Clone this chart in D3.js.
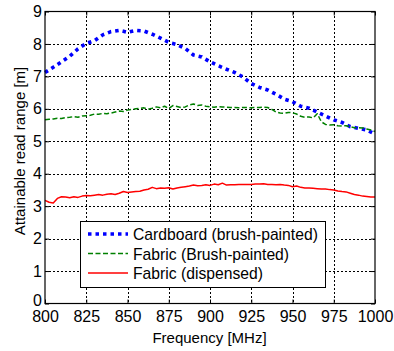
<!DOCTYPE html>
<html>
<head>
<meta charset="utf-8">
<script src="https://cdn.jsdelivr.net/npm/d3@7"></script>
<style>
  html, body { margin: 0; padding: 0; background: #fff; }
  svg { display: block; font-family: "Liberation Sans", Arial, sans-serif; }
</style>
</head>
<body>
<svg id="chart" width="394" height="351"></svg>
<script>
// Read range measurements of printed tags over the UHF band
const freqCoarse = [800, 805, 810, 815, 820, 825, 830, 835, 840, 845, 850, 855, 860, 865, 870, 875, 880, 885, 890, 895,
  900, 905, 910, 915, 920, 925, 930, 935, 940, 945, 950, 955, 960, 965, 970, 975, 980, 985, 990, 995, 1000];

const cardboardBrush = [7.12, 7.28, 7.45, 7.62, 7.85, 8.02, 8.10, 8.28, 8.38, 8.42, 8.36, 8.42, 8.40, 8.30, 8.18, 8.05, 7.98, 7.86, 7.66, 7.60,
  7.45, 7.33, 7.22, 7.12, 6.98, 6.78, 6.66, 6.58, 6.45, 6.30, 6.22, 6.08, 6.02, 5.90, 5.78, 5.66, 5.58, 5.45, 5.40, 5.35, 5.22];

const freqFine = [800, 802.5, 805, 807.5, 810, 812.5, 815, 817.5, 820, 822.5, 825, 827.5, 830, 832.5, 835, 837.5, 840, 842.5, 845, 847.5,
  850, 852.5, 855, 857.5, 860, 862.5, 865, 867.5, 870, 872.5, 875, 877.5, 880, 882.5, 885, 887.5, 890, 892.5, 895, 897.5,
  900, 902.5, 905, 907.5, 910, 912.5, 915, 917.5, 920, 922.5, 925, 927.5, 930, 932.5, 935, 937.5, 940, 942.5, 945, 947.5,
  950, 952.5, 955, 957.5, 960, 962.5, 965, 967.5, 970, 972.5, 975, 977.5, 980, 982.5, 985, 987.5, 990, 992.5, 995, 997.5, 1000];

const fabricBrush = [5.66, 5.68, 5.69, 5.71, 5.70, 5.73, 5.74, 5.76, 5.74, 5.78, 5.79, 5.80, 5.84, 5.83, 5.86, 5.85, 5.87, 5.90, 5.93, 5.92,
  5.96, 5.98, 6.00, 6.01, 6.03, 5.99, 6.02, 6.06, 6.03, 6.08, 6.01, 6.10, 6.07, 6.04, 6.06, 6.12, 6.15, 6.10, 6.12, 6.08,
  6.06, 6.05, 6.07, 6.06, 6.05, 6.04, 6.04, 6.03, 6.04, 6.04, 6.03, 6.04, 6.04, 6.05, 6.04, 5.98, 5.90, 5.87, 5.86, 5.89,
  5.88, 5.84, 5.77, 5.74, 5.75, 5.72, 5.85, 5.60, 5.52, 5.50, 5.51, 5.48, 5.47, 5.48, 5.45, 5.42, 5.42, 5.41, 5.38, 5.35, 5.30];

const fabricDispensed = [3.18, 3.12, 3.10, 3.24, 3.29, 3.28, 3.26, 3.29, 3.27, 3.31, 3.33, 3.32, 3.34, 3.36, 3.34, 3.37, 3.38, 3.36, 3.40, 3.45,
  3.42, 3.44, 3.45, 3.46, 3.50, 3.52, 3.58, 3.54, 3.56, 3.55, 3.57, 3.53, 3.56, 3.58, 3.60, 3.62, 3.65, 3.63, 3.64, 3.66,
  3.64, 3.68, 3.66, 3.71, 3.65, 3.66, 3.66, 3.67, 3.67, 3.67, 3.67, 3.68, 3.68, 3.69, 3.67, 3.67, 3.66, 3.67, 3.65, 3.64,
  3.60, 3.62, 3.58, 3.56, 3.56, 3.55, 3.54, 3.53, 3.53, 3.51, 3.50, 3.47, 3.45, 3.44, 3.40, 3.36, 3.34, 3.31, 3.30, 3.28, 3.28];

const xTicks = [800, 825, 850, 875, 900, 925, 950, 975, 1000];
const yTicks = [0, 1, 2, 3, 4, 5, 6, 7, 8, 9];

const seriesNames = ["Cardboard (brush-painted)", "Fabric (Brush-painted)", "Fabric (dispensed)"];

const svg = d3.select("#chart");
const plot = { left: 45, right: 375, top: 11.5, bottom: 303.5 };

const x = d3.scaleLinear().domain([800, 1000]).range([plot.left, plot.right]);
const y = d3.scaleLinear().domain([0, 9]).range([plot.bottom, plot.top]);

// dotted grid
const grid = svg.append("g").attr("stroke", "#000").attr("stroke-width", 1).attr("stroke-dasharray", "2,2").attr("shape-rendering", "crispEdges");
xTicks.slice(1, -1).forEach(t => {
  grid.append("line").attr("x1", Math.round(x(t)) + 0.5).attr("x2", Math.round(x(t)) + 0.5)
    .attr("y1", plot.top).attr("y2", plot.bottom);
});
yTicks.slice(1, -1).forEach(t => {
  grid.append("line").attr("y1", Math.round(y(t)) + 0.5).attr("y2", Math.round(y(t)) + 0.5)
    .attr("x1", plot.left).attr("x2", plot.right);
});

// series
const series = [
  { f: freqCoarse, v: cardboardBrush, color: "#0000ff", width: 3.6, dash: "3.5,4" },
  { f: freqFine, v: fabricBrush, color: "#008000", width: 1.5, dash: "5,2.5" },
  { f: freqFine, v: fabricDispensed, color: "#ff0000", width: 1.5, dash: null }
];
const line = d3.line().x(d => x(d[0])).y(d => y(d[1]));
series.forEach(s => {
  const pts = s.f.map((f, i) => [f, s.v[i]]);
  svg.append("path").datum(pts)
    .attr("d", line)
    .attr("fill", "none")
    .attr("stroke", s.color)
    .attr("stroke-width", s.width)
    .attr("stroke-dasharray", s.dash)
    .attr("stroke-linejoin", "round");
});

// axes with inward ticks on all sides
const axisBottom = d3.axisBottom(x).tickValues(xTicks).tickSize(-4).tickPadding(7.5).tickFormat(d3.format("d"));
const axisTop = d3.axisTop(x).tickValues(xTicks).tickSize(-4).tickFormat("");
const axisLeft = d3.axisLeft(y).tickValues(yTicks).tickSize(-4).tickPadding(3).tickFormat(d3.format("d"));
const axisRight = d3.axisRight(y).tickValues(yTicks).tickSize(-4).tickFormat("");

function styleAxis(g) {
  g.selectAll("path").remove();
  g.selectAll("line").attr("stroke", "#000");
  g.selectAll("text").attr("fill", "#000").attr("font-size", 16).attr("font-family", "Liberation Sans, Arial, sans-serif");
}
svg.append("g").attr("transform", `translate(0,${plot.bottom})`).call(axisBottom).call(styleAxis);
svg.append("g").attr("transform", `translate(0,${plot.top})`).call(axisTop).call(styleAxis);
const yAxisG = svg.append("g").attr("transform", `translate(${plot.left},0)`).call(axisLeft).call(styleAxis);
// the zero label sits slightly raised, clear of the frequency labels
yAxisG.selectAll(".tick").filter(d => d === 0).select("text").attr("dy", "0.12em");
svg.append("g").attr("transform", `translate(${plot.right},0)`).call(axisRight).call(styleAxis);

// frame
svg.append("rect")
  .attr("x", plot.left).attr("y", plot.top)
  .attr("width", plot.right - plot.left).attr("height", plot.bottom - plot.top)
  .attr("fill", "none").attr("stroke", "#000").attr("stroke-width", 1.2);

// axis titles
svg.append("text")
  .attr("x", 209.5).attr("y", 343)
  .attr("text-anchor", "middle").attr("font-size", 15).attr("fill", "#000")
  .text("Frequency [MHz]");
svg.append("text")
  .attr("transform", `translate(25,151) rotate(-90)`)
  .attr("text-anchor", "middle").attr("font-size", 15).attr("fill", "#000")
  .text("Attainable read range [m]");

// legend
const legend = svg.append("g");
legend.append("rect")
  .attr("x", 80.5).attr("y", 221.5).attr("width", 245).attr("height", 66)
  .attr("fill", "#fff").attr("stroke", "#000").attr("stroke-width", 1);
series.forEach((s, i) => {
  const yy = 234 + i * 19.5;
  legend.append("line")
    .attr("x1", 88).attr("x2", 128).attr("y1", yy).attr("y2", yy)
    .attr("stroke", s.color).attr("stroke-width", s.width)
    .attr("stroke-dasharray", s.dash);
  legend.append("text")
    .attr("x", 133).attr("y", yy + 6)
    .attr("font-size", 15.7).attr("fill", "#000")
    .text(seriesNames[i]);
});
</script>
</body>
</html>
